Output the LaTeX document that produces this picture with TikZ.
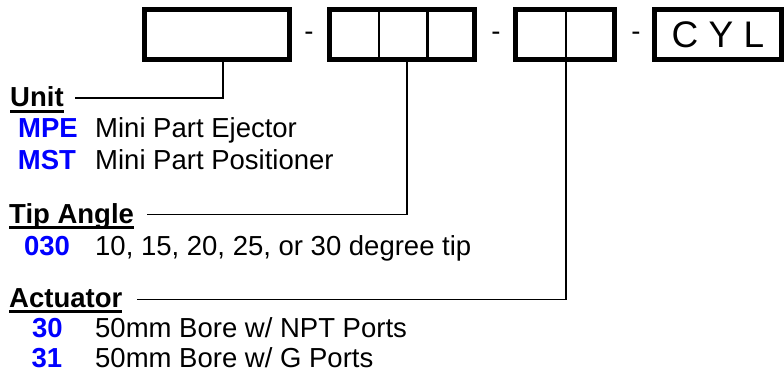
\documentclass[tikz,border=0pt]{standalone}
\usepackage{fontspec}
\setmainfont{Liberation Sans}
\usetikzlibrary{calc}
\definecolor{codeblue}{RGB}{0,0,255}
\begin{document}
\begin{tikzpicture}[x=1pt,y=-1pt,
  boxst/.style={draw, line width=5pt, inner sep=0pt, outer sep=0pt, minimum height=50pt},
  divider/.style={line width=2.5pt},
  conn/.style={line width=1.8pt},
  txt/.style={font=\fontsize{27.5}{30}\selectfont, inner sep=0pt, anchor=base west},
  head/.style={font=\fontsize{27.5}{30}\selectfont\bfseries, inner sep=0pt, anchor=base west},
  code/.style={font=\fontsize{27.5}{30}\selectfont\bfseries, text=codeblue, inner sep=0pt, anchor=base},
  uline/.style={line width=2.2pt},
  sepdash/.style={font=\fontsize{27.5}{30}\selectfont, inner sep=0pt, anchor=base},
]
\useasboundingbox (0,0) rectangle (784,374);

% boxes
\node[boxst, minimum width=145pt] (b1) at (217,34.5) {};
\node[boxst, minimum width=145pt] (b2) at (402,34.5) {};
\node[boxst, minimum width=99pt] (b3) at (565,34.5) {};
\node[boxst, minimum width=127pt, font=\fontsize{37}{40}\selectfont] (b4) at (718,34.5) {C Y L};

% dividers
\draw[divider] ($(b2.north west)!0.34!(b2.north east)$) -- ($(b2.south west)!0.34!(b2.south east)$);
\draw[divider] ($(b2.north west)!0.675!(b2.north east)$) -- ($(b2.south west)!0.675!(b2.south east)$);
\draw[divider] ($(b3.north)+(1,0)$) -- ($(b3.south)+(1,0)$);

% dashes
\node[sepdash] (d1) at (309,41) {-};
\node[sepdash] (d2) at (496,41) {-};
\node[sepdash] (d3) at (636,41) {-};

% headings
\node[head] (hUnit) at (10,107) {Unit};
\node[head] (hTip) at (9,223) {Tip Angle};
\node[head] (hAct) at (9,307) {Actuator};
\foreach \h in {hUnit,hTip,hAct}{
  \draw[uline] ($(\h.base west)+(0,4.5)$) -- ($(\h.base east)+(0,4.5)$);
}

% connectors
\coordinate (t1) at ($(b1.south west)+(78.5,0)$);
\coordinate (t2) at ($(b2.south west)+(77.5,0)$);
\coordinate (t3) at ($(b3.south)+(1,0)$);
\coordinate (s1) at (75,98);
\coordinate (s2) at (147,214.5);
\coordinate (s3) at (137,299.5);
\draw[conn] (s1) -| (t1);
\draw[conn] (s2) -| (t2);
\draw[conn] (s3) -| (t3);

% codes
\node[code] (cMPE) at (48,138) {MPE};
\node[code] (cMST) at (47,170) {MST};
\node[code] (c030) at (47,255) {030};
\node[code] (c30) at (47.5,337) {30};
\node[code] (c31) at (47,367.5) {31};

% descriptions
\node[txt] (dMPE) at (95,138) {Mini Part Ejector};
\node[txt] (dMST) at (95,170) {Mini Part Positioner};
\node[txt] (d030) at (95,255) {10, 15, 20, 25, or 30 degree tip};
\node[txt] (d30) at (95,337) {50mm Bore w/ NPT Ports};
\node[txt] (d31) at (95,367.5) {50mm Bore w/ G Ports};
\end{tikzpicture}
\end{document}
